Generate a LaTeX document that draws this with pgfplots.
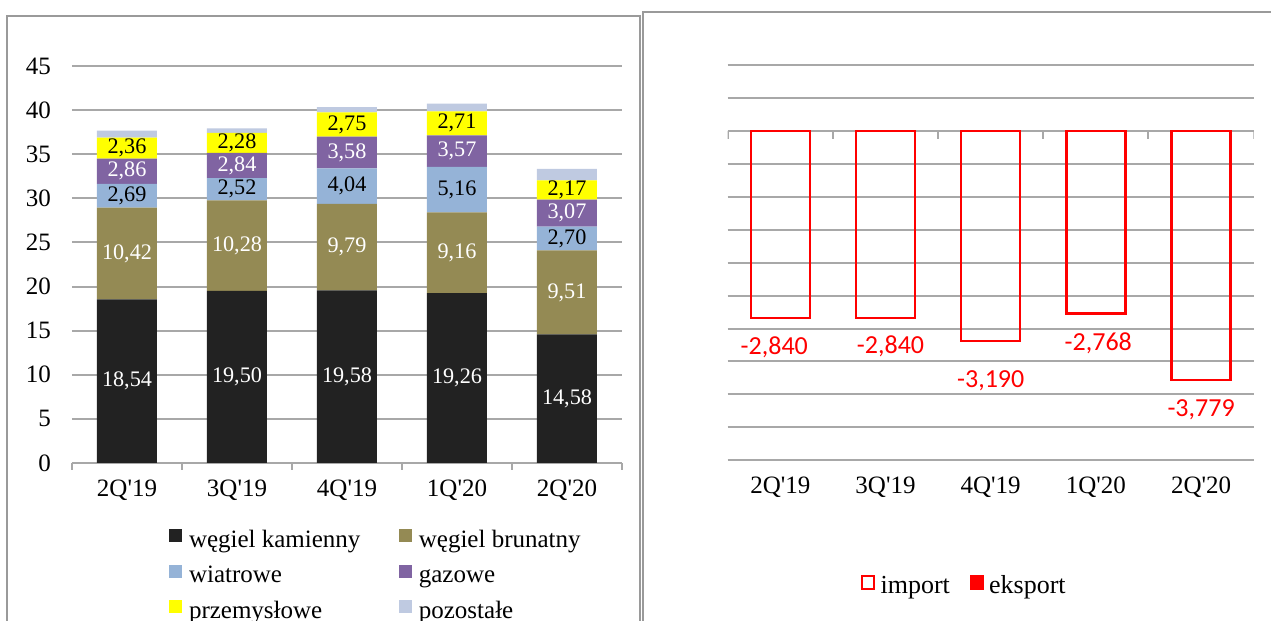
\documentclass[border=0pt]{standalone}
\usepackage{pgfplots}
\pgfplotsset{compat=1.18}
\usepackage{pgfplotstable}
\usepackage{fontspec}
\setmainfont{Liberation Serif}
\newfontfamily\carl{Carlito}
\definecolor{c1}{HTML}{222222}
\definecolor{c2}{HTML}{948A54}
\definecolor{c3}{HTML}{95B3D7}
\definecolor{c4}{HTML}{8064A2}
\definecolor{c5}{HTML}{FFFF00}
\definecolor{c6}{HTML}{BFCAE1}
\definecolor{gridc}{HTML}{A8A8A8}
\definecolor{framec}{HTML}{9A9A9A}
\newcommand\tfont{\fontsize{12.5}{15}\selectfont}
\newcommand\legfont{\fontsize{13}{15.6}\selectfont}
\newcommand\lfont{\fontsize{11.1}{13}\selectfont}
\newcommand\rfont{\carl\fontsize{13}{15.6}\selectfont}

\pgfplotstableread{
x a b c d e f
0 18.54 10.42 2.69 2.86 2.36 0.80
1 19.50 10.28 2.52 2.84 2.28 0.50
2 19.58 9.79 4.04 3.58 2.75 0.60
3 19.26 9.16 5.16 3.57 2.71 0.87
4 14.58 9.51 2.70 3.07 2.17 1.30
}\energy
\pgfplotstableread{
x imp labx laby
0 -2.840 -0.057 -3.28
1 -2.840 1.048 -3.267
2 -3.190 2 -3.789
3 -2.768 3.023 -3.226
4 -3.779 4 -4.23
}\trade

\begin{document}
\begin{tikzpicture}
\useasboundingbox (0,0) rectangle (635.5pt,310.5pt);
\clip (0,0) rectangle (635.5pt,310.5pt);
% frames
\draw[framec, line width=0.8pt] (3.5pt,-10pt) -- (3.5pt,302.6pt) -- (320pt,302.6pt) -- (320pt,-10pt);
\draw[framec, line width=0.8pt] (321.5pt,-10pt) -- (321.5pt,304.5pt) -- (650pt,304.5pt);

% ---------------- left panel: stacked bars
\begin{axis}[
  at={(36pt,79pt)}, anchor=south west, scale only axis,
  width=275pt, height=198.5pt,
  xmin=-0.5, xmax=4.5, ymin=0, ymax=45,
  ybar stacked, bar width=30pt,
  axis x line*=bottom, axis y line*=left,
  y axis line style={draw=none},
  x axis line style={gridc, line width=1pt},
  xtick={0,...,4},
  xticklabels={2Q\textquotesingle19,3Q\textquotesingle19,4Q\textquotesingle19,1Q\textquotesingle20,2Q\textquotesingle20},
  minor xtick={-0.5,0.5,...,4.5},
  ytick={0,5,...,45},
  tick align=outside, major tick length=0pt, minor tick length=3.5pt,
  minor x tick style={gridc, line width=1pt},
  ymajorgrids, major grid style={gridc, line width=1pt},
  ticklabel style={font=\tfont},
  xticklabel style={yshift=-5pt},
  yticklabel style={xshift=-7pt},
  /pgf/number format/assume math mode=true,
  legend image code/.code={\fill[#1] (0pt,-0.5pt) rectangle (6.5pt,6pt);},
  legend columns=2, legend cell align=left,
  legend style={draw=none, fill=none, at={(0.1764,-0.166)}, anchor=north west,
     font=\tfont, inner sep=0pt, row sep=5.75pt,
     nodes={inner sep=0pt, text height=9pt, text depth=3pt},
     /tikz/every odd column/.append style={column sep=3.3pt},
     /tikz/every even column/.append style={column sep=19.4pt}},
]
\addplot[fill=c1, draw=none] table[x=x,y=a]{\energy}; \addlegendentry{węgiel kamienny}
\addplot[fill=c2, draw=none] table[x=x,y=b]{\energy}; \addlegendentry{węgiel brunatny}
\addplot[fill=c3, draw=none] table[x=x,y=c]{\energy}; \addlegendentry{wiatrowe}
\addplot[fill=c4, draw=none] table[x=x,y=d]{\energy}; \addlegendentry{gazowe}
\addplot[fill=c5, draw=none] table[x=x,y=e]{\energy}; \addlegendentry{przemysłowe}
\addplot[fill=c6, draw=none] table[x=x,y=f]{\energy}; \addlegendentry{pozostałe}
\end{axis}

% labels of the left panel
\begin{axis}[
  at={(36pt,79pt)}, anchor=south west, scale only axis,
  width=275pt, height=198.5pt,
  xmin=-0.5, xmax=4.5, ymin=0, ymax=45, hide axis,
  every node near coord/.append style={anchor=center, font=\lfont, inner sep=0pt},
  /pgf/number format/.cd, use comma, fixed, fixed zerofill, precision=2, assume math mode=true]
\addplot[draw=none, mark=none, nodes near coords, point meta=explicit,
  every node near coord/.append style={text=white}]
  table[x=x, y expr=\thisrow{a}/2, meta=a]{\energy};
\addplot[draw=none, mark=none, nodes near coords, point meta=explicit,
  every node near coord/.append style={text=white}]
  table[x=x, y expr=\thisrow{a}+\thisrow{b}/2, meta=b]{\energy};
\addplot[draw=none, mark=none, nodes near coords, point meta=explicit,
  every node near coord/.append style={text=black}]
  table[x=x, y expr=\thisrow{a}+\thisrow{b}+\thisrow{c}/2, meta=c]{\energy};
\addplot[draw=none, mark=none, nodes near coords, point meta=explicit,
  every node near coord/.append style={text=white}]
  table[x=x, y expr=\thisrow{a}+\thisrow{b}+\thisrow{c}+\thisrow{d}/2, meta=d]{\energy};
\addplot[draw=none, mark=none, nodes near coords, point meta=explicit,
  every node near coord/.append style={text=black}]
  table[x=x, y expr=\thisrow{a}+\thisrow{b}+\thisrow{c}+\thisrow{d}+\thisrow{e}/2, meta=e]{\energy};
\end{axis}

% ---------------- right panel: import bars
\begin{axis}[
  at={(363.85pt,80.4pt)}, anchor=south west, scale only axis,
  width=263pt, height=197.45pt,
  xmin=-0.5, xmax=4.5, ymin=-5, ymax=1,
  ybar, bar width=29.5pt,
  axis line style={draw=none},
  xtick={0,...,4},
  xticklabels={2Q\textquotesingle19,3Q\textquotesingle19,4Q\textquotesingle19,1Q\textquotesingle20,2Q\textquotesingle20},
  ytick={-5,-4.5,...,1}, yticklabels={},
  major tick length=0pt, tick style={draw=none},
  ymajorgrids, major grid style={gridc, line width=1pt},
  ticklabel style={font=\tfont},
  xticklabel style={yshift=-5pt},
  legend image code/.code={\draw[#1, line width=1pt] (0.5pt,-0.5pt) rectangle (6.5pt,6pt);},
  legend columns=2, legend cell align=left,
  legend style={draw=none, fill=none, at={(0.2534,-0.2892)}, anchor=north west,
     font=\legfont, inner sep=0pt,
     nodes={inner sep=0pt, text height=9pt, text depth=3pt},
     /tikz/every odd column/.append style={column sep=2.6pt},
     /tikz/every even column/.append style={column sep=10pt}},
]
\addplot[draw=red, fill=none, line width=1.3pt] table[x=x,y=imp]{\trade}; \addlegendentry{import}
\addlegendimage{draw=red, fill=red}
\addlegendentry{eksport}
\draw[gridc, line width=1pt] (axis cs:-0.5,0) -- ++(0pt,-4pt);
\draw[gridc, line width=1pt] (axis cs:0.5,0) -- ++(0pt,-4pt);
\draw[gridc, line width=1pt] (axis cs:1.5,0) -- ++(0pt,-4pt);
\draw[gridc, line width=1pt] (axis cs:2.5,0) -- ++(0pt,-4pt);
\draw[gridc, line width=1pt] (axis cs:3.5,0) -- ++(0pt,-4pt);
\draw[gridc, line width=1pt] (axis cs:4.5,0) -- ++(0pt,-4pt);
\end{axis}

% labels of the right panel
\begin{axis}[
  at={(363.85pt,80.4pt)}, anchor=south west, scale only axis,
  width=263pt, height=197.45pt,
  xmin=-0.5, xmax=4.5, ymin=-5, ymax=1, hide axis,
  every node near coord/.append style={anchor=center, font=\rfont, text=red, inner sep=0pt},
  /pgf/number format/.cd, use comma, fixed, fixed zerofill, precision=3, assume math mode=true]
\addplot[draw=none, mark=none, nodes near coords, point meta=explicit]
  table[x=labx, y=laby, meta=imp]{\trade};
\end{axis}
\end{tikzpicture}
\end{document}
